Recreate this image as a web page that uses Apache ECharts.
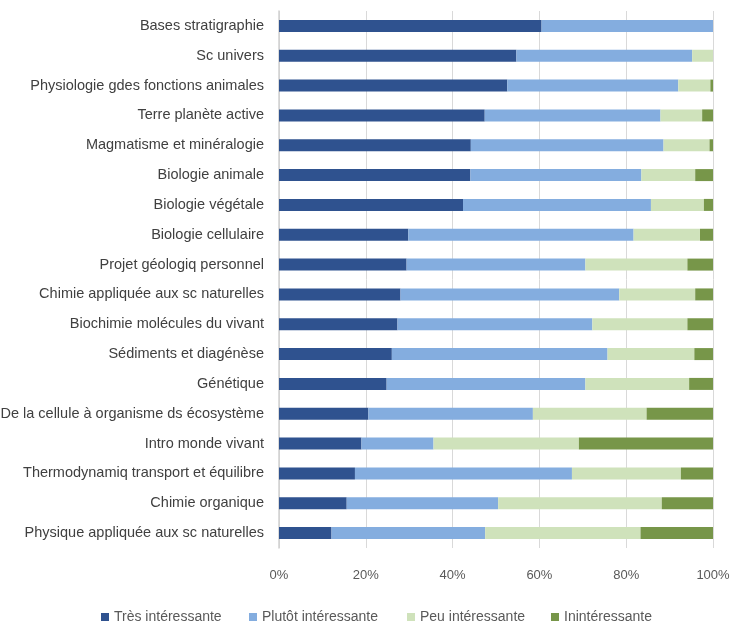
<!DOCTYPE html>
<html><head><meta charset="utf-8">
<script src="https://cdn.jsdelivr.net/npm/echarts@6/dist/echarts.min.js"></script>
<style>html,body{margin:0;padding:0;background:#fff}#c{width:733px;height:624px}</style>
</head><body><div id="c"></div>
<script>
const categories = [
  "Bases stratigraphie","Sc univers","Physiologie gdes fonctions animales","Terre planète active",
  "Magmatisme et minéralogie","Biologie animale","Biologie végétale","Biologie cellulaire",
  "Projet géologiq personnel","Chimie appliquée aux sc naturelles","Biochimie molécules du vivant",
  "Sédiments et diagénèse","Génétique","De la cellule à organisme ds écosystème","Intro monde vivant",
  "Thermodynamiq transport et équilibre","Chimie organique","Physique appliquée aux sc naturelles"
];
const tresInteressante   = [60.5,54.7,52.6,47.4,44.2,44.1,42.4,29.8,29.4,28.0,27.3,26.0,24.8,20.6,19.0,17.5,15.6,12.1];
const plutotInteressante = [39.5,40.5,39.4,40.5,44.4,39.4,43.3,51.9,41.2,50.4,44.9,49.7,45.8,37.9,16.6,50.0,34.9,35.4];
const peuInteressante    = [0,4.8,7.4,9.6,10.6,12.4,12.2,15.3,23.5,17.5,21.9,20.0,23.9,26.2,33.5,25.1,37.7,35.8];
const inInteressante     = [0,0,0.6,2.5,0.8,4.1,2.1,3.0,5.9,4.1,5.9,4.3,5.5,15.3,30.9,7.4,11.8,16.7];
const seriesNames = ["Très intéressante","Plutôt intéressante","Peu intéressante","Inintéressante"];

const FONT = '"Liberation Sans",sans-serif';
const colors = ['#2F528F','#84ADDF','#CFE2BB','#779649'];
const data = [tresInteressante, plutotInteressante, peuInteressante, inInteressante];
const legendLefts = [101,249,407,551];

const chart = echarts.init(document.getElementById('c'));
chart.setOption({
  animation:false,
  color: colors,
  grid:{left:279,right:20,top:11,height:537,containLabel:false,outerBoundsMode:'none'},
  legend: seriesNames.map((n,i)=>({
    top:610, left:legendLefts[i], padding:0, icon:'rect', itemWidth:8, itemHeight:8,
    textStyle:{fontFamily:FONT,fontSize:14,color:'#595959'},
    data:[n]
  })),
  xAxis:{
    type:'value', min:0, max:100, interval:20,
    axisLine:{show:false},
    axisTick:{show:false},
    splitLine:{show:true,lineStyle:{color:'#D9D9D9',width:1}},
    axisLabel:{formatter:v=>v+'%', fontFamily:FONT, fontSize:13, color:'#595959', margin:21}
  },
  yAxis:{
    type:'category', data:categories, inverse:true,
    axisLine:{show:true,lineStyle:{color:'#D0D0D0',width:1.5}},
    axisTick:{show:false},
    axisLabel:{fontFamily:FONT, fontSize:14.5, color:'#404040', margin:15}
  },
  series: seriesNames.map((n,i)=>({
    name:n, type:'bar', stack:'total', barWidth:12,
    data:data[i],
    itemStyle:{color:colors[i]}
  }))
});
</script></body></html>
